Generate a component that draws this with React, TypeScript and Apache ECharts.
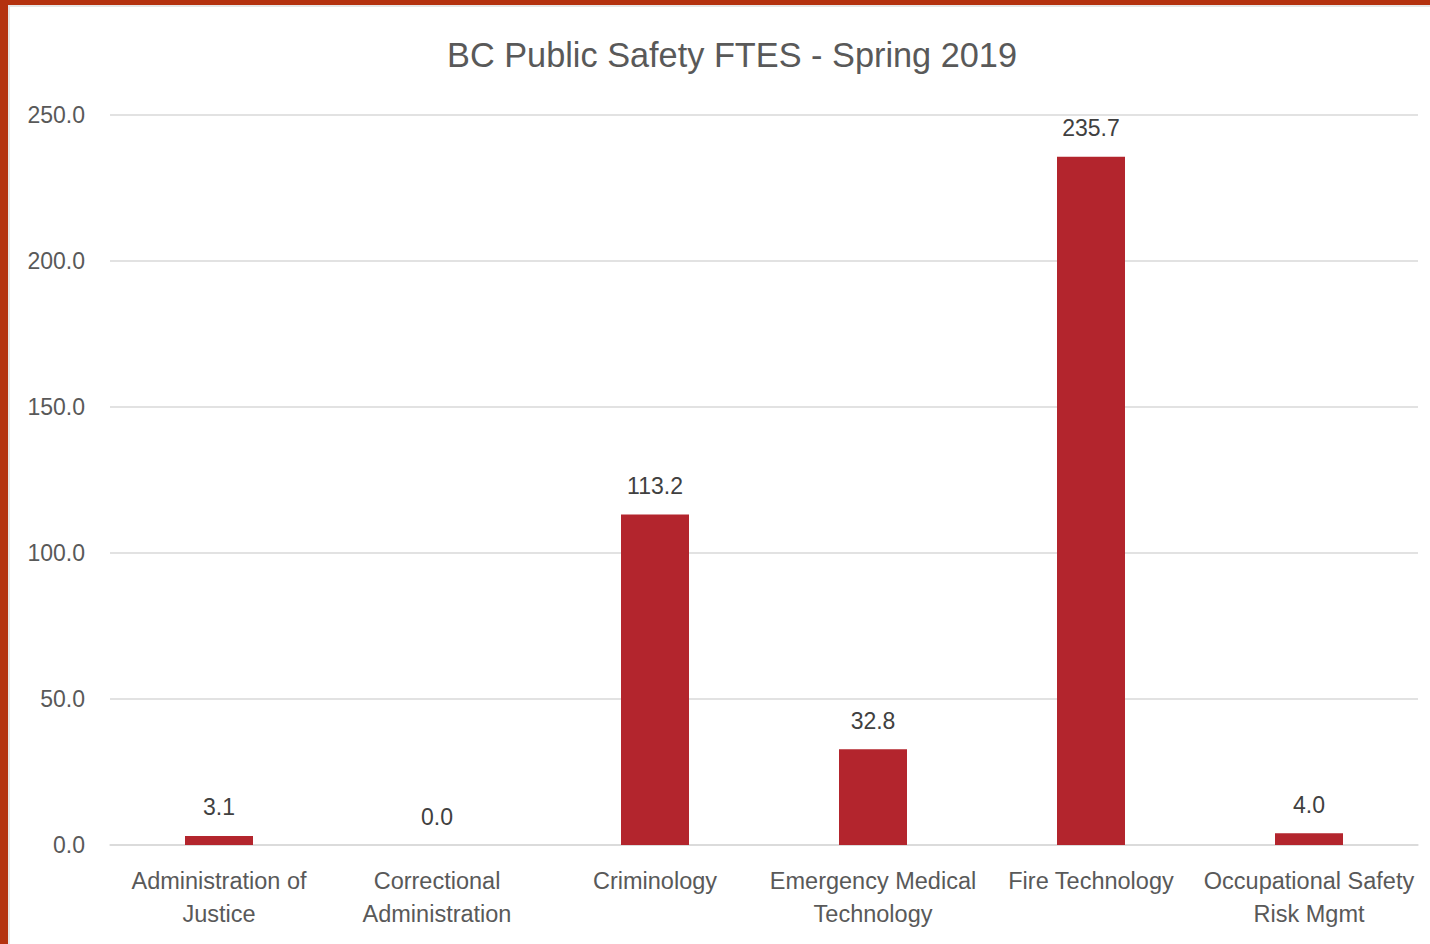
import React, { useEffect, useRef } from "react";
import * as echarts from "echarts";

const categories = [
  "Administration of\nJustice",
  "Correctional\nAdministration",
  "Criminology",
  "Emergency Medical\nTechnology",
  "Fire Technology",
  "Occupational Safety\nRisk Mgmt",
];
const values = [3.1, 0.0, 113.2, 32.8, 235.7, 4.0];
const yTicks = { min: 0, max: 250, interval: 50 };
const title = "BC Public Safety FTES - Spring 2019";

export default function App() {
  const ref = useRef<HTMLDivElement>(null);
  useEffect(() => {
    if (!ref.current) return;
    const chart = echarts.init(ref.current, undefined, { renderer: "svg" });
    const font = "'Liberation Sans', Arial, sans-serif";
    chart.setOption({
      animation: false,
      backgroundColor: "#ffffff",
      title: {
        text: title,
        left: 727,
        textAlign: "center",
        top: 33,
        textStyle: { fontFamily: font, fontSize: 34.3, fontWeight: "normal", color: "#595959" },
      },
      graphic: [
        { type: "rect", left: 0, top: 0, shape: { width: 8, height: 944 }, style: { fill: "#B4320F" }, z: 100 },
        { type: "rect", left: 0, top: 0, shape: { width: 1430, height: 5 }, style: { fill: "#B4320F" }, z: 100 },
        { type: "rect", left: 8, top: 5, shape: { width: 2, height: 939 }, style: { fill: "#E6E6E6" }, z: 100 },
        { type: "rect", left: 8, top: 5, shape: { width: 1422, height: 2 }, style: { fill: "#E6E6E6" }, z: 100 },
      ],
      grid: { left: 110, right: 12, top: 115, bottom: 99, containLabel: false },
      xAxis: {
        type: "category",
        data: categories,
        axisLine: { lineStyle: { color: "#D9D9D9", width: 1.5 } },
        axisTick: { show: false },
        axisLabel: {
          fontFamily: font,
          fontSize: 23.5,
          color: "#595959",
          margin: 19,
          lineHeight: 33,
          interval: 0,
        },
      },
      yAxis: {
        type: "value",
        min: yTicks.min,
        max: yTicks.max,
        interval: yTicks.interval,
        axisLine: { show: false },
        axisTick: { show: false },
        splitLine: { lineStyle: { color: "#D9D9D9", width: 1.5 } },
        axisLabel: {
          fontFamily: font,
          fontSize: 23,
          color: "#595959",
          margin: 25,
          formatter: (v: number) => v.toFixed(1),
        },
      },
      series: [
        {
          type: "bar",
          data: values,
          barWidth: 68,
          itemStyle: { color: "#B3252D" },
          label: {
            show: true,
            position: "top",
            distance: 17,
            fontFamily: font,
            fontSize: 23,
            color: "#404040",
            formatter: (p: any) => Number(p.value).toFixed(1),
          },
        },
      ],
    });
    return () => chart.dispose();
  }, []);
  return (
    <div
      ref={ref}
      style={{ position: "fixed", left: 0, top: 0, width: 1430, height: 944 }}
    />
  );
}
